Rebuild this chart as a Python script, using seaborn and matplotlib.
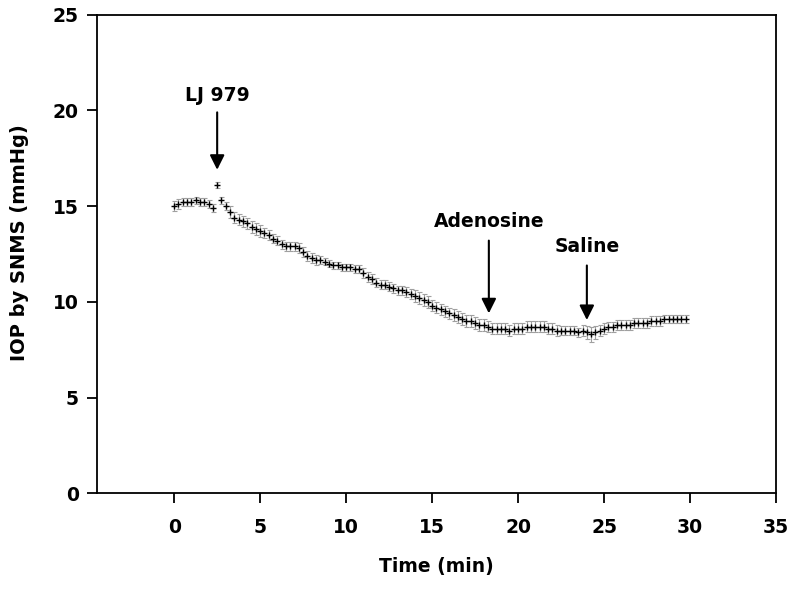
import matplotlib.pyplot as plt
import seaborn as sns
import pandas as pd

time_min = [0.0, 0.25, 0.5, 0.75, 1.0, 1.25, 1.5, 1.75, 2.0, 2.25,
            2.5, 2.75, 3.0, 3.25, 3.5, 3.75, 4.0, 4.25, 4.5, 4.75,
            5.0, 5.25, 5.5, 5.75, 6.0, 6.25, 6.5, 6.75, 7.0, 7.25,
            7.5, 7.75, 8.0, 8.25, 8.5, 8.75, 9.0, 9.25, 9.5, 9.75,
            10.0, 10.25, 10.5, 10.75, 11.0, 11.25, 11.5, 11.75, 12.0, 12.25,
            12.5, 12.75, 13.0, 13.25, 13.5, 13.75, 14.0, 14.25, 14.5, 14.75,
            15.0, 15.25, 15.5, 15.75, 16.0, 16.25, 16.5, 16.75, 17.0, 17.25,
            17.5, 17.75, 18.0, 18.25, 18.5, 18.75, 19.0, 19.25, 19.5, 19.75,
            20.0, 20.25, 20.5, 20.75, 21.0, 21.25, 21.5, 21.75, 22.0, 22.25,
            22.5, 22.75, 23.0, 23.25, 23.5, 23.75, 24.0, 24.25, 24.5, 24.75,
            25.0, 25.25, 25.5, 25.75, 26.0, 26.25, 26.5, 26.75, 27.0, 27.25,
            27.5, 27.75, 28.0, 28.25, 28.5, 28.75, 29.0, 29.25, 29.5, 29.75]

iop = [15.0, 15.1, 15.2, 15.2, 15.2, 15.3, 15.2, 15.2, 15.1, 14.9,
       16.1, 15.3, 15.0, 14.7, 14.4, 14.3, 14.2, 14.1, 13.9, 13.8,
       13.7, 13.6, 13.5, 13.3, 13.2, 13.0, 12.9, 12.9, 12.9, 12.8,
       12.6, 12.4, 12.3, 12.2, 12.2, 12.1, 12.0, 11.9, 11.9, 11.8,
       11.8, 11.8, 11.7, 11.7, 11.5, 11.3, 11.2, 11.0, 10.9, 10.9,
       10.8, 10.7, 10.6, 10.6, 10.5, 10.4, 10.3, 10.2, 10.1, 10.0,
       9.8, 9.7, 9.6, 9.5, 9.4, 9.3, 9.2, 9.1, 9.0, 9.0,
       8.9, 8.8, 8.8, 8.7, 8.6, 8.6, 8.6, 8.6, 8.5, 8.6,
       8.6, 8.6, 8.7, 8.7, 8.7, 8.7, 8.7, 8.6, 8.6, 8.5,
       8.5, 8.5, 8.5, 8.5, 8.4, 8.5, 8.4, 8.3, 8.4, 8.5,
       8.6, 8.7, 8.7, 8.8, 8.8, 8.8, 8.8, 8.9, 8.9, 8.9,
       8.9, 9.0, 9.0, 9.0, 9.1, 9.1, 9.1, 9.1, 9.1, 9.1]

sem = [0.25, 0.25, 0.2, 0.2, 0.2, 0.2, 0.2, 0.2, 0.2, 0.2,
       0.15, 0.2, 0.2, 0.3, 0.3, 0.3, 0.3, 0.3, 0.3, 0.3,
       0.3, 0.25, 0.25, 0.25, 0.25, 0.25, 0.25, 0.25, 0.25, 0.25,
       0.25, 0.25, 0.25, 0.25, 0.2, 0.2, 0.2, 0.2, 0.2, 0.2,
       0.2, 0.2, 0.2, 0.2, 0.25, 0.25, 0.25, 0.25, 0.25, 0.25,
       0.25, 0.25, 0.25, 0.25, 0.25, 0.25, 0.3, 0.3, 0.3, 0.3,
       0.3, 0.3, 0.3, 0.3, 0.3, 0.3, 0.3, 0.3, 0.3, 0.3,
       0.3, 0.3, 0.3, 0.3, 0.3, 0.3, 0.3, 0.3, 0.3, 0.3,
       0.3, 0.3, 0.3, 0.3, 0.3, 0.3, 0.3, 0.3, 0.3, 0.3,
       0.25, 0.25, 0.25, 0.25, 0.25, 0.3, 0.35, 0.4, 0.35, 0.3,
       0.3, 0.25, 0.25, 0.25, 0.25, 0.25, 0.25, 0.25, 0.25, 0.25,
       0.25, 0.25, 0.25, 0.25, 0.2, 0.2, 0.2, 0.2, 0.2, 0.2]

events = ['LJ 979', 'Adenosine', 'Saline']
event_time = [2.5, 18.3, 24.0]
arrow_tip = [16.9, 9.4, 9.05]
arrow_tail = [19.9, 13.2, 11.9]
label_y = [20.8, 14.2, 12.9]

df = pd.DataFrame({'time': time_min, 'iop': iop, 'sem': sem})

sns.set_style('ticks')
plt.rcParams['font.family'] = ['DejaVu Sans']
plt.rcParams['font.weight'] = 'bold'
plt.rcParams['text.color'] = 'black'
plt.rcParams['axes.labelcolor'] = 'black'
plt.rcParams['xtick.color'] = 'black'
plt.rcParams['ytick.color'] = 'black'

fig = plt.figure(figsize=(8, 5.9), dpi=100)
ax = fig.add_axes([0.121, 0.164, 0.849, 0.811])

# error bars in light grey, mean values as small black crosses
ax.errorbar(df['time'], df['iop'], yerr=df['sem'], fmt='none',
            ecolor='#a0a0a0', elinewidth=0.8, capsize=1.8, capthick=0.8, zorder=2)
sns.scatterplot(data=df, x='time', y='iop', ax=ax, color='black', marker='+',
                s=14, linewidth=1.0, zorder=3, legend=False)

for name, tx, tip, tail, ly in zip(events, event_time, arrow_tip, arrow_tail, label_y):
    ax.annotate('', xy=(tx, tip), xytext=(tx, tail),
                arrowprops=dict(arrowstyle='-|>', color='black', lw=1.5,
                                mutation_scale=22, shrinkA=0, shrinkB=0))
    ax.text(tx, ly, name, ha='center', va='center', fontsize=13.5, fontweight='bold')

ax.set_xlim(-4.5, 35)
ax.set_ylim(0, 25)
ax.set_xticks([0, 5, 10, 15, 20, 25, 30, 35])
ax.set_yticks([0, 5, 10, 15, 20, 25])

for s in ax.spines.values():
    s.set_visible(True)
    s.set_linewidth(1.3)
    s.set_color('black')

ax.tick_params(axis='both', direction='out', length=7, width=1.3, labelsize=13.5, pad=11)
ax.tick_params(axis='y', pad=6)
for lab in ax.get_xticklabels() + ax.get_yticklabels():
    lab.set_fontweight('bold')

ax.set_xlabel('Time (min)', fontsize=13.5, fontweight='bold', labelpad=14)
ax.set_ylabel('IOP by SNMS (mmHg)', fontsize=14, fontweight='bold')
ax.yaxis.set_label_coords(-0.1, 0.523)

plt.savefig('out.png', dpi=100)
